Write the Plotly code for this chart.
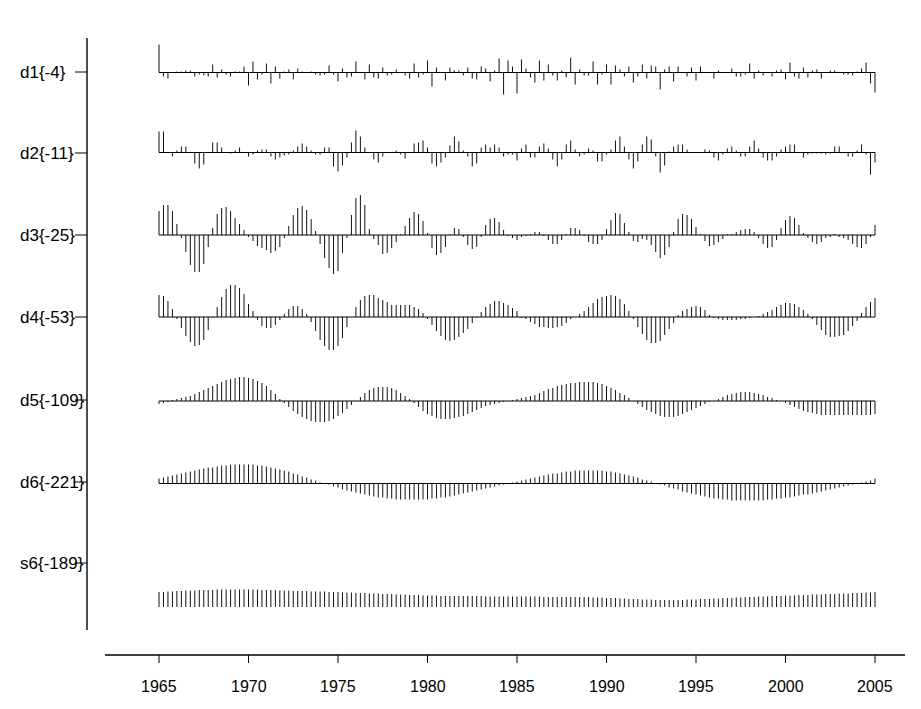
import plotly.graph_objects as go

# ---------------- data (quarterly, 1965.00 .. 2005.00) ----------------
START_YEAR = 1965.0
STEP = 0.25
N = 161
years = [START_YEAR + STEP * i for i in range(N)]

row_labels = ["d1{-4}", "d2{-11}", "d3{-25}", "d4{-53}", "d5{-109}", "d6{-221}", "s6{-189}"]
tick_years = [1965, 1970, 1975, 1980, 1985, 1990, 1995, 2000, 2005]

d1 = [28, -4, -6, 0, 1, 1, 2, 2, -4, -2,
      -3, -4, 8, -5, 3, -2, -4, 1, 1, 6,
      -13, 11, -7, -2, 9, -11, 6, -6, 1, 3,
      -7, 4, 1, 0, 1, -2, -3, -2, 7, -2,
      -9, 4, -5, -4, 11, 0, -7, 8, -5, -6,
      5, -3, -2, 3, 0, -3, -6, 9, -5, -2,
      12, -14, 5, 0, -8, 5, 2, 2, -3, 5,
      -6, -7, 6, 4, -9, 2, 14, -22, 12, 6,
      -21,
      13, 4, -5, -10, 12, -8, 8, -3, -8, 2,
      -5, 15, -12, 3, -3, -3, 11, -12, -2, 8,
      -12, 7, 3, -4, 6, -10, -4, 8, -6, 7,
      6, -17, 3, 6, -9, 6, 0, -4, 5, -8,
      6, 0, 0, -6, 2, 0, 0, 4, -4, -4,
      -2, 9, -6, 2, -3, 0, -4, 2, 3, -7,
      10, -4, -6, 5, -5, 2, 3, -6, 0, 2,
      2, 0, -2, -2, -3, 1, 4, 10, -11, -20]

d2 = [21, 21, 0, -4, 2, 6, 6, 0, -11, -16,
      -12, 0, 10, 10, 5, 0, -1, 2, 5, 0,
      -4, -2, 2, 3, 3, -4, -7, -5, -3, -2,
      2, 6, 9, 6, 2, -2, -2, 5, 5, -14,
      -19, -13, -5, 10, 22, 16, 5, 0, -7, -10,
      -4, 0, 0, 2, -2, -6, 0, 9, 10, 12,
      5, -11, -14, -10, -5, 7, 16, 11, 2, -4,
      -14, -11, 5, 8, 5, 8, 5, -4, -2, -2,
      -8,
      4, 8, -5, -5, 6, 9, 4, -7, -14, -7,
      8, 12, 3, -4, -2, 4, 2, -9, -9, -2,
      3, 12, 16, 6, -7, -16, -9, 8, 16, 13,
      -4, -20, -13, 1, 6, 8, 8, 3, 0, 0,
      0, 3, 2, -5, -8, -2, 4, 6, 2, -4,
      -4, 6, 12, 4, -5, -8, -8, -4, 3, 6,
      8, 8, 0, -5, -2, -1, -1, -1, -2, -1,
      6, 6, 0, -4, -4, 2, 8, -2, -22, -10]

d3 = [24, 30, 30, 24, 11, -3, -17, -30, -37, -37,
      -29, -12, 7, 21, 27, 28, 24, 17, 11, 5,
      -2, -6, -11, -13, -15, -18, -16, -12, -3, 9,
      20, 27, 29, 25, 16, 4, -9, -23, -33, -39,
      -36, -18, -3, 20, 37, 40, 30, 6, -4, -10,
      -19, -18, -13, -7, 1, 9, 17, 23, 21, 14,
      2, -13, -20, -18, -12, 1, 7, 6, -2, -10,
      -14, -12, -2, 10, 16, 17, 13, 5, -1, -3,
      -5,
      -2, -1, 1, 3, 3, -1, -5, -9, -9, -5,
      1, 7, 7, 5, -1, -7, -9, -9, -5, 6,
      15, 22, 21, 12, 3, -6, -7, -4, -5, -10,
      -17, -23, -20, -12, 3, 16, 21, 20, 16, 8,
      1, -6, -11, -10, -7, -4, 1, 1, 3, 5,
      6, 6, 3, -3, -9, -13, -12, -5, 7, 15,
      19, 17, 10, 2, -3, -7, -9, -7, -3, -2,
      1, -2, -3, -5, -9, -12, -13, -9, -2, 10]

d4 = [22, 21, 16, 8, -2, -11, -19, -25, -29, -28,
      -23, -13, -1, 10, 20, 28, 32, 32, 29, 23,
      13, 6, -3, -9, -11, -11, -8, -3, 3, 8,
      11, 11, 8, 3, -5, -14, -23, -29, -33, -33,
      -29, -21, -10, 0, 10, 17, 21, 22, 22, 19,
      17, 15, 12, 12, 12, 12, 12, 10, 8, 4,
      -2, -8, -14, -19, -23, -24, -23, -20, -16, -12,
      -6, -1, 5, 10, 13, 16, 16, 14, 12, 9,
      6,
      -1, -2, -5, -7, -10, -10, -11, -11, -10, -9,
      -6, -2, 0, 3, 6, 10, 14, 18, 20, 21,
      22, 21, 18, 13, 6, -2, -10, -17, -23, -26,
      -26, -24, -18, -12, -6, 2, 6, 8, 10, 11,
      10, 7, 2, -1, -2, -3, -3, -3, -3, -2,
      -2, -1, 0, 1, 3, 5, 7, 10, 12, 14,
      14, 13, 10, 7, 3, -2, -8, -13, -18, -20,
      -20, -19, -18, -14, -9, -4, 4, 10, 15, 19]

d5 = [-3, -2, -1, 1, 2, 3, 4, 5, 7, 9, 11, 13, 15, 17, 19, 21,
      22, 23, 24, 24, 23, 22, 20, 18, 15, 11, 7, 2, -2, -6, -10, -13,
      -16, -18, -20, -21, -21, -21, -20, -18, -15, -12, -8, -4, 0, 4, 8, 11,
      13, 14, 14, 14, 13, 11, 8, 5, 2, -2, -6, -10, -13, -15, -17, -18,
      -18, -18, -17, -16, -15, -13, -11, -9, -7, -5, -4, -3, -2, -1, 0, 1,
      2, 3, 4, 5, 6, 8, 10, 12, 13, 15, 16, 17, 18, 18, 19, 19,
      19, 19, 18, 17, 15, 13, 11, 8, 6, 3, 0, -3, -6, -9, -11, -13,
      -15, -16, -16, -16, -15, -13, -11, -9, -7, -5, -3, -1, 0, 2, 4, 6,
      7, 8, 9, 9, 9, 8, 7, 6, 4, 3, 1, 0, -2, -4, -6, -8,
      -10, -11, -12, -13, -14, -14, -14, -14, -14, -14, -14, -14, -14, -14, -14, -14,
      -13]

d6 = [5, 6, 7, 8, 9, 10, 11, 12, 13, 14, 15, 16, 16, 17, 18, 18,
      19, 19, 19, 19, 19, 19, 18, 18, 17, 16, 15, 14, 13, 12, 10, 9,
      7, 6, 4, 3, 1, 0, -1, -3, -4, -6, -7, -8, -9, -10, -11, -12,
      -13, -14, -14, -15, -15, -16, -16, -16, -16, -16, -16, -16, -16, -15, -15, -14,
      -14, -13, -12, -11, -10, -9, -8, -7, -6, -5, -4, -3, -2, -1, 0, 1,
      2, 3, 4, 5, 6, 7, 8, 9, 10, 10, 11, 12, 12, 13, 13, 13,
      13, 13, 13, 13, 12, 12, 11, 10, 9, 8, 7, 6, 4, 3, 2, 0,
      -1, -2, -4, -5, -6, -8, -9, -10, -11, -12, -13, -14, -15, -15, -16, -16,
      -17, -17, -17, -17, -17, -17, -17, -17, -16, -16, -15, -15, -14, -14, -13, -12,
      -11, -11, -10, -9, -8, -7, -6, -5, -4, -3, -2, -1, 0, 1, 2, 3,
      5]

s6 = [15, 15, 15.5, 15.5, 16, 16, 16.5, 16.5, 16.5, 17, 17, 17, 17, 17.5, 17.5, 17.5,
      17.5, 17.5, 17.5, 17.5, 17.5, 17.5, 17.5, 17, 17, 17, 17, 16.5, 16.5, 16.5, 16, 16,
      16, 16, 15.5, 15.5, 15.5, 15.5, 15, 15, 15, 14.5, 14.5, 14.5, 14, 14, 14, 13.5,
      13.5, 13.5, 13, 13, 13, 12.5, 12.5, 12.5, 12, 12, 12, 11.5, 11.5, 11.5, 11.5, 11,
      11, 11, 11, 11, 11, 11, 11, 11, 11, 10.5, 10.5, 10.5, 10.5, 10.5, 10.5, 10.5,
      10.5, 10.5, 10.5, 10.5, 10.5, 10.5, 10, 10, 10, 10, 10, 10, 10, 10, 10, 10,
      10, 9.5, 9.5, 9.5, 9, 9, 9, 8.5, 8.5, 8, 8, 8, 7.5, 7.5, 7.5, 7,
      7, 7, 7, 7, 7, 7, 7.5, 7.5, 7.5, 8, 8, 8, 8.5, 8.5, 9, 9,
      9, 9.5, 9.5, 10, 10, 10, 10.5, 10.5, 10.5, 11, 11, 11, 11.5, 11.5, 11.5, 12,
      12, 12, 12.5, 12.5, 12.5, 13, 13, 13, 13.5, 13.5, 13.5, 14, 14, 14, 14.5, 14.5,
      15]

series = [d1, d2, d3, d4, d5, d6, s6]

# ---------------- layout constants (pixels of the 921x709 page) ----------------
W, H = 921, 709
PX_1965, PX_2005 = 159.0, 875.0
ppy = (PX_2005 - PX_1965) / 40.0
x_lo = 1965 - PX_1965 / ppy
x_hi = 2005 + (W - PX_2005) / ppy

row_base = [72.5, 152.5, 235.0, 317.0, 401.0, 483.5, 607.0]   # bar baselines
label_y = [72, 153, 235, 317, 400, 482, 563]                   # label / tick rows
has_zero_line = [True, True, True, True, True, True, False]

FONT = "Arial, 'Liberation Sans', Helvetica, sans-serif"
FS_ROW = 17
FS_YEAR = 16

fig = go.Figure()

for vals, base, zl in zip(series, row_base, has_zero_line):
    xs, ys = [], []
    for t, v in zip(years, vals):
        xs += [t, t, None]
        ys += [base, base - v, None]
    fig.add_trace(go.Scatter(x=xs, y=ys, mode="lines",
                             line=dict(color="#111111", width=1),
                             hoverinfo="skip", showlegend=False))
    if zl:
        fig.add_trace(go.Scatter(x=[years[0], years[-1]], y=[base, base], mode="lines",
                                 line=dict(color="#000000", width=1),
                                 hoverinfo="skip", showlegend=False))

shapes = []
# vertical axis line and row ticks
shapes.append(dict(type="line", xref="paper", yref="y", x0=87 / W, x1=87 / W, y0=38, y1=630,
                   line=dict(color="black", width=1.4)))
for ly in label_y:
    shapes.append(dict(type="line", xref="paper", yref="y", x0=75 / W, x1=87 / W, y0=ly, y1=ly,
                       line=dict(color="black", width=1)))
# horizontal (time) axis line and ticks
shapes.append(dict(type="line", xref="paper", yref="y", x0=105 / W, x1=905 / W, y0=655, y1=655,
                   line=dict(color="black", width=1.4)))
for ty in tick_years:
    shapes.append(dict(type="line", xref="x", yref="y", x0=ty, x1=ty, y0=655, y1=663,
                       line=dict(color="black", width=1)))

annotations = []
for lab, ly in zip(row_labels, label_y):
    annotations.append(dict(x=18 / W, xref="paper", y=ly, yref="y", text=lab, showarrow=False,
                            xanchor="left", yanchor="middle",
                            font=dict(family=FONT, size=FS_ROW, color="black")))
for ty in tick_years:
    annotations.append(dict(x=ty, xref="x", y=686, yref="y", text=str(ty), showarrow=False,
                            xanchor="center", yanchor="middle",
                            font=dict(family=FONT, size=FS_YEAR, color="black")))

fig.update_layout(
    width=W, height=H,
    margin=dict(l=0, r=0, t=0, b=0),
    paper_bgcolor="white", plot_bgcolor="white",
    showlegend=False,
    xaxis=dict(range=[x_lo, x_hi], visible=False, fixedrange=True),
    yaxis=dict(range=[H, 0], visible=False, fixedrange=True),
    shapes=shapes, annotations=annotations,
)

fig.write_html("out.html")
